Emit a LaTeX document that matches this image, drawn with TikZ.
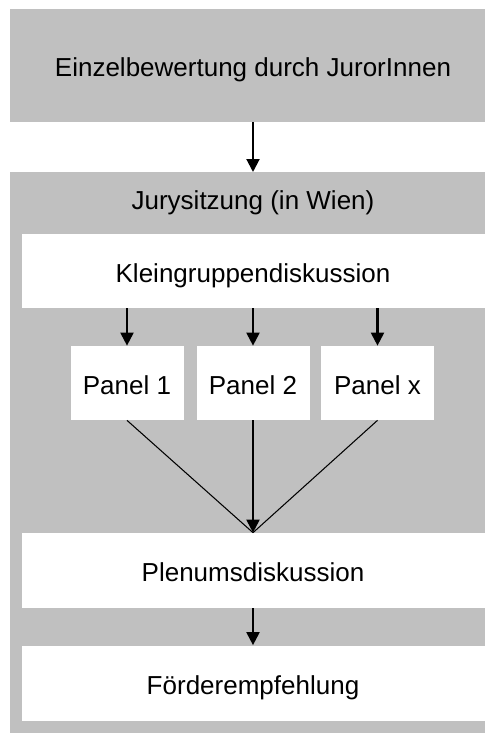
\documentclass[tikz,border=0pt]{standalone}
\usepackage{fontspec}
\setmainfont{Liberation Sans}
\usetikzlibrary{arrows.meta,positioning}
\definecolor{jurygrau}{HTML}{C0C0C0}
\begin{document}
\begin{tikzpicture}[>={Triangle[length=0.26cm,width=0.26cm]},
    font=\fontsize{14.8}{18}\selectfont,
    every node/.style={text height=0.45cm, text depth=0pt},
    graubox/.style={fill=jurygrau, minimum width=9.72cm, inner sep=0pt},
    weissbox/.style={fill=white, minimum width=9.26cm, minimum height=1.5cm, inner sep=0pt},
    panelbox/.style={fill=white, minimum width=2.26cm, minimum height=1.48cm, inner sep=0pt},
    pfeil/.style={->, line width=1.15pt}]
    \useasboundingbox (0,0) rectangle (9.7,-14.66);
    \clip (0,0) rectangle (9.7,-14.66);

    % Einzelbewertung
    \node[graubox, minimum height=2.26cm] (einzel) at (5.06,-1.31) {Einzelbewertung durch JurorInnen};

    % Jurysitzung (grauer Rahmen)
    \node[graubox, minimum height=11.4cm, anchor=north] (jury) at (5.06,-3.44) {};
    \node (jurytitel) at ([yshift=-0.52cm]jury.north) {Jurysitzung (in Wien)};
    \draw[pfeil] (einzel) -- (jury);

    % Kleingruppen und Panels
    \node[weissbox, minimum height=1.48cm] (klein) at (5.06,-5.42) {Kleingruppendiskussion};
    \node[panelbox] (panel1) at (2.54,-7.66) {Panel 1};
    \node[panelbox] (panel2) at (5.06,-7.66) {Panel 2};
    \node[panelbox] (panelx) at (7.55,-7.66) {Panel x};
    \foreach \p in {panel1,panel2,panelx}
        \draw[pfeil] (klein.south -| \p) -- (\p);

    % Plenum
    \node[weissbox] (plenum) at (5.06,-11.41) {Plenumsdiskussion};
    \draw[line width=0.6pt] (panel1.south) -- (plenum.north);
    \draw[line width=0.6pt] (panelx.south) -- (plenum.north);
    \draw[pfeil] (panel2) -- (plenum);

    % Ergebnis
    \node[weissbox] (foerder) at (5.06,-13.66) {Förderempfehlung};
    \draw[pfeil] (plenum) -- (foerder);
\end{tikzpicture}
\end{document}
